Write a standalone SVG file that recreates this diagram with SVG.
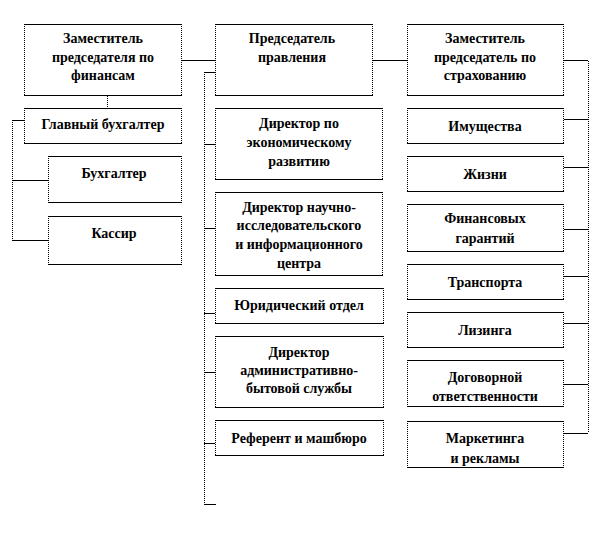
<svg xmlns="http://www.w3.org/2000/svg" width="612" height="540" viewBox="0 0 612 540">
<style>
.bg{fill:#fff;stroke:none}
.h{fill:none;stroke:#000;stroke-width:1}
.v{fill:none;stroke:#000;stroke-width:1;stroke-dasharray:1 1}
</style>
<rect width="612" height="540" fill="#fff"/>
<g id="connectors">
<path class="h" d="M182 60.5H215M373 60.5H407M564 60.5H588"/>
<path class="v" d="M107.5 96V108"/>
<path class="v" d="M12.5 120V240"/>
<path class="h" d="M12 120.5H24M12 180.5H48M12 240.5H48"/>
<path class="v" d="M204.5 72V504"/>
<path class="h" d="M204 72.5H215M204 144.5H215M204 228.5H215M204 313.5H215M204 372.5H215M204 443.5H215M204 504.5H216"/>
<path class="v" d="M588.5 61V433"/>
<path class="h" d="M564 119.5H588M564 167.5H588M564 229.5H588M564 276.5H588M564 323.5H588M564 384.5H588M564 433.5H588"/>
</g>
<g font-family="Liberation Serif" font-weight="bold" font-size="14" text-anchor="middle" fill="#000">
<g id="zam-fin">
<rect class="bg" x="24" y="24" width="158" height="72"/>
<path class="h" d="M24 24.5H182M24 95.5H182"/><path class="v" d="M24.5 24V96M181.5 24V96"/>
<text x="103" y="43">Заместитель</text><text x="103" y="62">председателя по</text><text x="103" y="80">финансам</text>
</g>
<g id="glav-buh">
<rect class="bg" x="24" y="108" width="158" height="36"/>
<path class="h" d="M24 108.5H182M24 143.5H182"/><path class="v" d="M24.5 108V144M181.5 108V144"/>
<text x="103" y="129">Главный бухгалтер</text>
</g>
<g id="buh">
<rect class="bg" x="48" y="156" width="134" height="47"/>
<path class="h" d="M48 156.5H182M48 202.5H182"/><path class="v" d="M48.5 156V203M181.5 156V203"/>
<text x="114" y="178">Бухгалтер</text>
</g>
<g id="kassir">
<rect class="bg" x="48" y="216" width="134" height="49"/>
<path class="h" d="M48 216.5H182M48 264.5H182"/><path class="v" d="M48.5 216V265M181.5 216V265"/>
<text x="114" y="238">Кассир</text>
</g>
<g id="pred">
<rect class="bg" x="215" y="24" width="158" height="72"/>
<path class="h" d="M215 24.5H373M215 95.5H373"/><path class="v" d="M215.5 24V96M372.5 24V96"/>
<text x="292" y="43">Председатель</text><text x="292" y="62">правления</text>
</g>
<g id="dir-econ">
<rect class="bg" x="215" y="108" width="168" height="72"/>
<path class="h" d="M215 108.5H383M215 179.5H383"/><path class="v" d="M215.5 108V180M382.5 108V180"/>
<text x="299" y="128">Директор по</text><text x="299" y="147">экономическому</text><text x="299" y="166">развитию</text>
</g>
<g id="dir-nii">
<rect class="bg" x="215" y="192" width="168" height="84"/>
<path class="h" d="M215 192.5H383M215 275.5H383"/><path class="v" d="M215.5 192V276M382.5 192V276"/>
<text x="299" y="212">Директор научно-</text><text x="299" y="230">исследовательского</text><text x="299" y="249">и информационного</text><text x="299" y="268">центра</text>
</g>
<g id="yur">
<rect class="bg" x="215" y="288" width="169" height="36"/>
<path class="h" d="M215 288.5H384M215 323.5H384"/><path class="v" d="M215.5 288V324M383.5 288V324"/>
<text x="299" y="310">Юридический отдел</text>
</g>
<g id="dir-adm">
<rect class="bg" x="215" y="336" width="169" height="72"/>
<path class="h" d="M215 336.5H384M215 407.5H384"/><path class="v" d="M215.5 336V408M383.5 336V408"/>
<text x="299" y="357">Директор</text><text x="299" y="375">административно-</text><text x="299" y="393">бытовой службы</text>
</g>
<g id="referent">
<rect class="bg" x="215" y="420" width="169" height="36"/>
<path class="h" d="M215 420.5H384M215 455.5H384"/><path class="v" d="M215.5 420V456M383.5 420V456"/>
<text x="299" y="443">Референт и машбюро</text>
</g>
<g id="zam-strah">
<rect class="bg" x="407" y="24" width="157" height="72"/>
<path class="h" d="M407 24.5H564M407 95.5H564"/><path class="v" d="M407.5 24V96M563.5 24V96"/>
<text x="485" y="43">Заместитель</text><text x="485" y="62">председатель по</text><text x="485" y="80">страхованию</text>
</g>
<g id="imush">
<rect class="bg" x="407" y="108" width="157" height="36"/>
<path class="h" d="M407 108.5H564M407 143.5H564"/><path class="v" d="M407.5 108V144M563.5 108V144"/>
<text x="485" y="131">Имущества</text>
</g>
<g id="zhizni">
<rect class="bg" x="407" y="156" width="157" height="36"/>
<path class="h" d="M407 156.5H564M407 191.5H564"/><path class="v" d="M407.5 156V192M563.5 156V192"/>
<text x="485" y="179">Жизни</text>
</g>
<g id="fin-gar">
<rect class="bg" x="407" y="204" width="157" height="48"/>
<path class="h" d="M407 204.5H564M407 251.5H564"/><path class="v" d="M407.5 204V252M563.5 204V252"/>
<text x="485" y="223">Финансовых</text><text x="485" y="243">гарантий</text>
</g>
<g id="transport">
<rect class="bg" x="407" y="264" width="157" height="36"/>
<path class="h" d="M407 264.5H564M407 299.5H564"/><path class="v" d="M407.5 264V300M563.5 264V300"/>
<text x="485" y="287">Транспорта</text>
</g>
<g id="lizing">
<rect class="bg" x="407" y="312" width="157" height="36"/>
<path class="h" d="M407 312.5H564M407 347.5H564"/><path class="v" d="M407.5 312V348M563.5 312V348"/>
<text x="485" y="335">Лизинга</text>
</g>
<g id="dogovor">
<rect class="bg" x="407" y="360" width="157" height="47"/>
<path class="h" d="M407 360.5H564M407 406.5H564"/><path class="v" d="M407.5 360V407M563.5 360V407"/>
<text x="485" y="382">Договорной</text><text x="485" y="401">ответственности</text>
</g>
<g id="marketing">
<rect class="bg" x="407" y="421" width="157" height="47"/>
<path class="h" d="M407 421.5H564M407 467.5H564"/><path class="v" d="M407.5 421V468M563.5 421V468"/>
<text x="485" y="443">Маркетинга</text><text x="485" y="463">и рекламы</text>
</g>
</g>
</svg>
